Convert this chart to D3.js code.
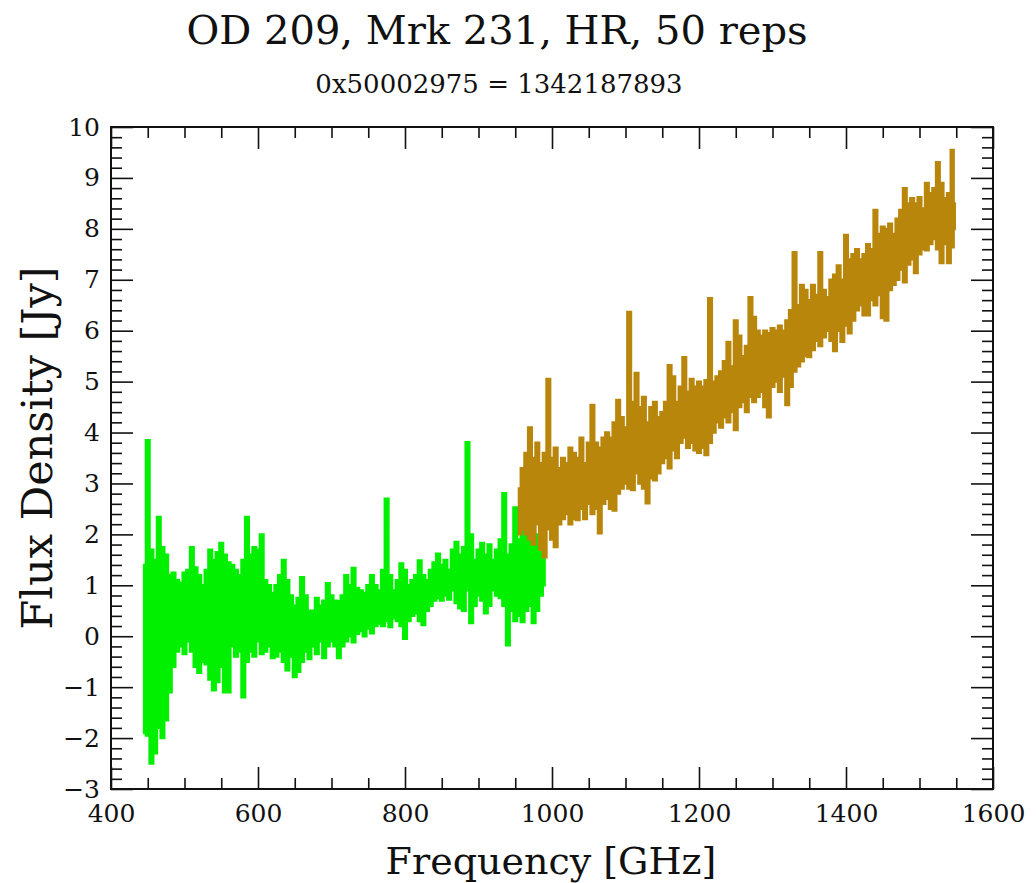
<!DOCTYPE html>
<html>
<head>
<meta charset="utf-8">
<script src="https://cdn.jsdelivr.net/npm/d3@7"></script>
<style>
html,body{margin:0;padding:0;background:#fff;}
svg{display:block;}
text{font-family:"DejaVu Serif",serif;fill:#111;}
</style>
</head>
<body>
<svg id="chart" width="1036" height="883"></svg>
<script>
// ---------------- DATA ----------------
const titleText = "OD 209, Mrk 231, HR, 50 reps";
const subtitleText = "0x50002975 = 1342187893";
const xLabel = "Frequency [GHz]";
const yLabel = "Flux Density [Jy]";
const xTicks = [400, 600, 800, 1000, 1200, 1400, 1600];
const yTicks = [-3, -2, -1, 0, 1, 2, 3, 4, 5, 6, 7, 8, 9, 10];

// Green band (low-frequency part): frequency, upper and lower envelope of the noisy spectrum
const greenFreq = [445,450,455,460,465,470,475,480,485,490,495,500,505,510,515,520,525,530,535,540,
  545,550,555,560,565,570,575,580,585,590,595,600,605,610,615,620,625,630,635,640,
  645,650,655,660,665,670,675,680,685,690,695,700,705,710,715,720,725,730,735,740,
  745,750,755,760,765,770,775,780,785,790,795,800,805,810,815,820,825,830,835,840,
  845,850,855,860,865,870,875,880,885,890,895,900,905,910,915,920,925,930,935,940,
  945,950,955,960,965,970,975,980,985,990];
const greenHi = [1.4,3.85,1.7,1.5,2.34,1.75,1.6,1.2,1.25,1.1,1.05,1.25,1.3,1.75,1.35,1.2,1.0,1.3,1.7,1.5,
  1.65,1.83,1.6,1.45,1.4,1.3,1.2,1.5,2.34,1.6,1.75,1.7,2.0,1.1,1.0,0.85,1.0,1.2,1.5,1.1,
  0.8,0.6,0.75,1.16,0.8,0.5,0.5,0.75,0.6,0.7,1.04,0.8,0.7,0.69,0.8,1.2,1.0,1.34,0.95,0.9,
  0.85,1.0,1.2,1.0,0.9,1.3,2.7,1.2,0.9,1.1,1.43,1.3,1.0,1.1,1.2,1.49,1.2,1.1,1.3,1.45,
  1.62,1.4,1.5,1.3,1.7,1.85,1.6,1.75,3.81,2.0,1.5,1.7,1.83,1.6,1.8,1.5,1.7,1.9,2.81,1.6,
  1.8,2.53,1.9,2.4,2.0,1.9,1.8,2.0,1.7,1.7];
const greenLo = [-1.9,-1.95,-2.5,-2.3,-1.8,-2.0,-1.65,-1.1,-0.6,-0.3,-0.2,-0.35,-0.1,-0.3,-0.6,-0.72,-0.5,-0.55,-0.85,-1.06,
  -0.9,-0.6,-1.1,-1.1,-0.2,-0.4,-0.3,-1.2,-0.5,-0.3,-0.4,-0.1,-0.35,-0.3,-0.2,-0.43,-0.4,-0.3,-0.5,-0.67,
  -0.4,-0.8,-0.7,-0.5,-0.3,-0.45,-0.2,-0.35,-0.1,-0.43,-0.2,-0.1,-0.2,-0.43,-0.2,-0.1,0.0,-0.12,0.05,0.1,
  0.0,0.15,0.06,0.2,0.25,0.2,0.3,0.18,0.35,0.3,0.2,-0.05,0.3,0.4,0.45,0.3,0.22,0.5,0.6,0.7,
  0.75,0.7,0.8,0.72,0.9,0.65,0.55,0.5,0.9,0.26,0.6,0.8,0.7,0.45,0.6,0.9,0.8,0.75,0.6,-0.18,
  0.5,0.3,0.4,0.28,0.5,0.6,0.26,0.5,0.8,1.0];

// Brown band (high-frequency part)
const brownFreq = [955,960,965,970,975,980,985,990,995,1000,1005,1010,1015,1020,1025,1030,1035,1040,1045,1050,
  1055,1060,1065,1070,1075,1080,1085,1090,1095,1100,1105,1110,1115,1120,1125,1130,1135,1140,1145,1150,
  1155,1160,1165,1170,1175,1180,1185,1190,1195,1200,1205,1210,1215,1220,1225,1230,1235,1240,1245,1250,
  1255,1260,1265,1270,1275,1280,1285,1290,1295,1300,1305,1310,1315,1320,1325,1330,1335,1340,1345,1350,
  1355,1360,1365,1370,1375,1380,1385,1390,1395,1400,1405,1410,1415,1420,1425,1430,1435,1440,1445,1450,
  1455,1460,1465,1470,1475,1480,1485,1490,1495,1500,1505,1510,1515,1520,1525,1530,1535,1540,1545,1548];
const brownHi = [2.9,3.3,3.6,4.1,3.5,3.8,3.4,3.6,5.05,3.5,3.7,3.3,3.5,3.4,3.7,3.6,3.5,3.9,3.4,3.8,
  4.54,3.8,3.7,3.9,4.0,3.9,4.2,4.64,4.3,4.1,6.37,4.6,5.17,4.5,4.7,4.2,4.5,4.6,4.3,4.4,
  4.6,5.32,5.1,4.6,4.9,5.48,4.8,5.05,4.9,5.0,4.9,5.03,6.64,5.0,5.1,5.2,5.4,5.78,5.3,6.2,
  5.9,5.5,5.7,6.66,6.27,6.0,5.9,6.0,5.95,6.05,6.0,6.1,6.0,6.2,6.4,7.54,6.5,6.9,6.8,6.6,
  6.9,6.7,7.54,6.8,6.66,7.0,7.1,7.28,7.0,7.88,7.4,7.5,7.6,7.4,7.5,7.7,7.6,8.37,7.9,8.04,
  8.0,8.1,7.9,8.2,8.37,8.8,8.5,8.6,8.5,8.62,8.4,8.9,8.7,8.8,9.31,8.9,8.6,8.7,9.55,8.5];
const brownLo = [2.0,2.1,2.0,1.9,1.8,2.2,1.7,1.55,2.1,1.9,1.75,2.2,2.3,2.4,2.2,2.3,2.28,2.5,2.3,2.6,
  2.4,2.5,2.02,2.6,2.7,2.5,2.47,2.8,2.9,3.0,2.9,2.87,3.2,3.0,2.9,2.61,3.1,3.06,3.2,3.4,
  3.5,3.3,3.65,3.5,3.8,3.9,3.7,3.8,3.65,3.6,3.7,3.56,3.8,4.0,4.2,4.1,4.3,4.2,4.4,4.05,
  4.5,4.6,4.4,4.7,4.6,4.7,4.8,4.5,4.3,4.9,5.0,4.8,5.1,4.54,4.9,5.2,5.3,5.4,5.5,5.48,
  5.62,5.8,5.7,5.87,6.0,5.8,5.6,6.0,5.78,6.1,5.95,6.2,6.4,6.5,6.3,6.3,6.6,6.5,6.7,6.25,
  6.2,6.8,6.9,7.0,7.2,6.95,7.3,7.4,7.13,7.5,7.6,7.58,7.7,7.8,7.6,7.33,7.7,7.33,7.64,8.0];

// ---------------- CHART ----------------
const svg = d3.select("#chart");
const L = 111, R = 993, T = 127, B = 789;

const x = d3.scaleLinear().domain([400, 1600]).range([L, R]);
const y = d3.scaleLinear().domain([-3, 10]).range([B, T]);

svg.append("defs").append("clipPath").attr("id", "plotclip")
  .append("rect").attr("x", L).attr("y", T).attr("width", R - L).attr("height", B - T);

// Dense noisy spectrum drawn as a stepped band between the upper and lower envelope
function band(freq, hi, lo) {
  return freq.map((f, i) => ({ f: f, hi: hi[i], lo: lo[i] }));
}
const area = d3.area()
  .x(d => x(d.f))
  .y0(d => y(d.lo))
  .y1(d => y(d.hi))
  .curve(d3.curveStep);

const plot = svg.append("g").attr("clip-path", "url(#plotclip)");
plot.append("path")
  .attr("d", area(band(greenFreq, greenHi, greenLo)))
  .attr("fill", "#00f000").attr("stroke", "#00f000").attr("stroke-width", 2.4)
  .attr("stroke-linejoin", "miter");
plot.append("path")
  .attr("d", area(band(brownFreq, brownHi, brownLo)))
  .attr("fill", "#b8860b").attr("stroke", "#b8860b").attr("stroke-width", 2.4)
  .attr("stroke-linejoin", "miter");

// Axes (ticks pointing inward on all four sides)
const xMinor = d3.range(400, 1601, 50).filter(v => v % 200 !== 0);
const yMinor = d3.range(-30, 101, 2).filter(v => v % 10 !== 0).map(v => v / 10);

function styleAxis(g) {
  g.select(".domain").remove();
  g.selectAll(".tick line").attr("stroke", "#111").attr("stroke-width", 1.6);
  g.selectAll(".tick text").attr("font-family", "DejaVu Serif").attr("font-size", 25).attr("fill", "#111");
}

svg.append("g").attr("transform", `translate(0,${B})`)
  .call(d3.axisBottom(x).tickValues(xTicks).tickFormat(d3.format("d")).tickSize(-22).tickPadding(15))
  .call(styleAxis);
svg.append("g").attr("transform", `translate(0,${B})`)
  .call(d3.axisBottom(x).tickValues(xMinor).tickFormat("").tickSize(-11))
  .call(styleAxis);
svg.append("g").attr("transform", `translate(0,${T})`)
  .call(d3.axisTop(x).tickValues(xTicks).tickFormat("").tickSize(-22))
  .call(styleAxis);
svg.append("g").attr("transform", `translate(0,${T})`)
  .call(d3.axisTop(x).tickValues(xMinor).tickFormat("").tickSize(-11))
  .call(styleAxis);

svg.append("g").attr("transform", `translate(${L},0)`)
  .call(d3.axisLeft(y).tickValues(yTicks).tickFormat(d3.format("d")).tickSize(-22).tickPadding(11))
  .call(styleAxis);
svg.append("g").attr("transform", `translate(${L},0)`)
  .call(d3.axisLeft(y).tickValues(yMinor).tickFormat("").tickSize(-11))
  .call(styleAxis);
svg.append("g").attr("transform", `translate(${R},0)`)
  .call(d3.axisRight(y).tickValues(yTicks).tickFormat("").tickSize(-22))
  .call(styleAxis);
svg.append("g").attr("transform", `translate(${R},0)`)
  .call(d3.axisRight(y).tickValues(yMinor).tickFormat("").tickSize(-11))
  .call(styleAxis);

// Frame
svg.append("rect").attr("x", L).attr("y", T).attr("width", R - L).attr("height", B - T)
  .attr("fill", "none").attr("stroke", "#111").attr("stroke-width", 2);

// Titles
svg.append("text").attr("x", 497).attr("y", 44).attr("text-anchor", "middle")
  .attr("font-size", 40).text(titleText);
svg.append("text").attr("x", 499).attr("y", 93).attr("text-anchor", "middle")
  .attr("font-size", 26).text(subtitleText);
svg.append("text").attr("x", 551).attr("y", 874).attr("text-anchor", "middle")
  .attr("font-size", 38).text(xLabel);
svg.append("text").attr("transform", `translate(52,448) rotate(-90)`).attr("text-anchor", "middle")
  .attr("font-size", 43).text(yLabel);
</script>
</body>
</html>
